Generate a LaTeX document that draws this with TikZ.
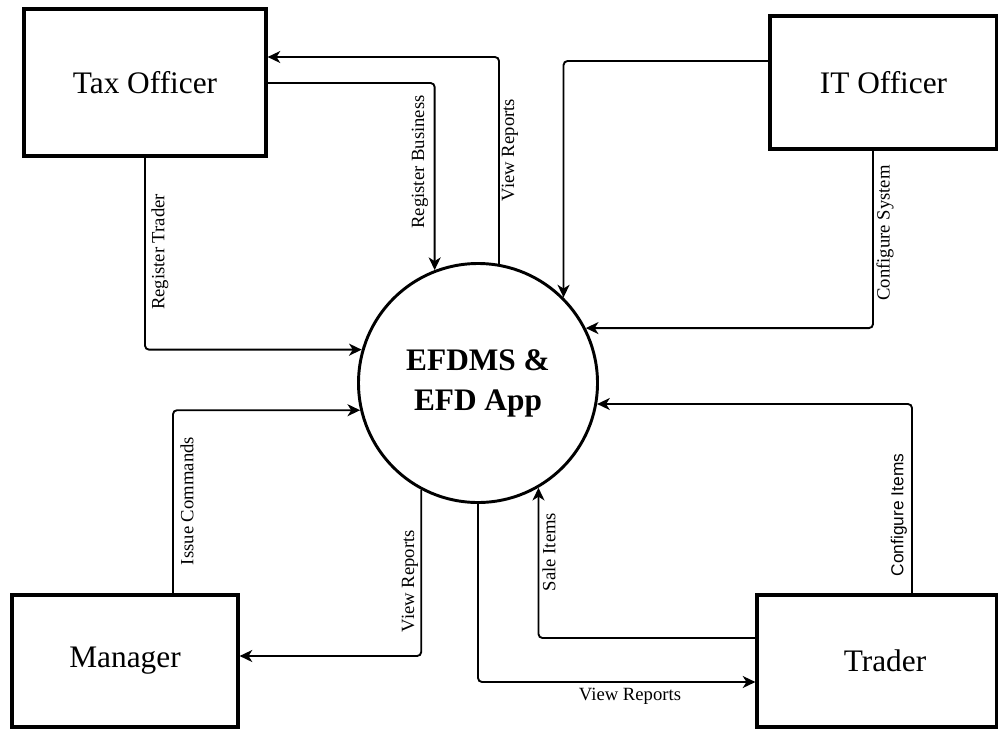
\documentclass[tikz,border=0pt]{standalone}
\usepackage{fontspec}
\setmainfont{Liberation Serif}
\newfontfamily\labsans{Liberation Sans}
\usetikzlibrary{arrows.meta}
\begin{document}
\begin{tikzpicture}[x=0.75pt,y=-0.75pt,
  entity/.style={draw, line width=2.4pt, inner sep=0pt, font=\fontsize{23.5}{28}\selectfont},
  proc/.style={draw, circle, line width=2.2pt, inner sep=0pt, minimum size=179.25pt, align=center, font=\fontsize{23.5}{30}\selectfont\bfseries},
  flow/.style={line width=1.4pt, rounded corners=3pt, -{Stealth[length=9.5pt,width=9pt,inset=2.8pt]}},
  lab/.style={font=\fontsize{14}{16}\selectfont, inner sep=0pt},
  vlab/.style={lab, rotate=90}]
\useasboundingbox (0,0) rectangle (998,728);

\node[entity, minimum width=181.5pt, minimum height=110.25pt] (tax) at (145,82.5) {Tax Officer};
\node[entity, minimum width=170.25pt, minimum height=99.75pt] (it) at (883.5,82.5) {IT Officer};
\node[entity, minimum width=169.5pt, minimum height=99pt] (man) at (125,661) {Manager};
\node[entity, minimum width=180pt, minimum height=99pt] (tr) at (877,661) {\hspace*{12pt}Trader};
\node[proc] (c) at (478,383) {EFDMS \&\\EFD App};

% Tax Officer flows
\draw[flow] (c.80.4) |- (tax.east |- 0,57);
\draw[flow] (tax.east |- 0,83) -| (c.111.1);
\draw[flow] (tax.south) |- (c.164);
% IT Officer flows
\draw[flow] (it.west |- 0,61) -| (c.45.3);
\draw[flow] (it.south -| 873,0) |- (c.27.9);
% Manager flows
\draw[flow] (man.north -| 173,0) |- (c.193.55);
\draw[flow] (c.242.6) |- (man.east |- 0,656);
% Trader flows
\draw[flow] (c.south) |- (tr.west |- 0,682);
\draw[flow] (tr.west |- 0,638) -| (c.300.1);
\draw[flow] (tr.north -| 912,0) |- (c.350.4);

% labels
\node[vlab] (l1) at (510,150) {View Reports};
\node[vlab] (l2) at (420,162) {Register Business};
\node[vlab] (l3) at (160,252) {Register Trader};
\node[vlab] (l4) at (885,233) {Configure System};
\node[vlab] (l5) at (187,501) {Issue Commands};
\node[vlab] (l6) at (410,581) {View Reports};
\node[lab] (l7) at (630,696) {View Reports};
\node[vlab] (l8) at (549,552) {Sale Items};
\node[vlab, font=\labsans\fontsize{13}{15}\selectfont] (l9) at (899,515) {Configure Items};
\end{tikzpicture}
\end{document}
